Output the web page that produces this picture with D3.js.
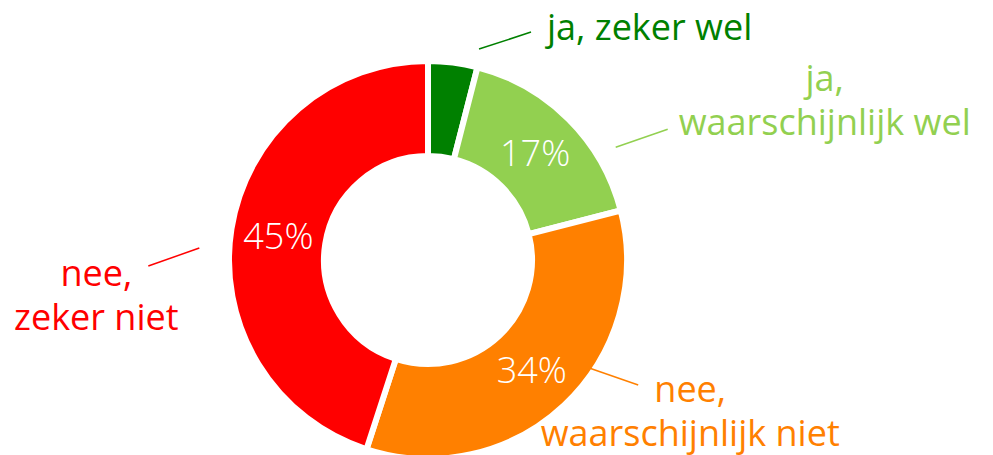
<!DOCTYPE html>
<html>
<head>
<meta charset="utf-8">
<script src="https://cdn.jsdelivr.net/npm/d3@7"></script>
<style>
  html, body { margin: 0; padding: 0; background: #fff; }
  svg { display: block; font-family: "Open Sans", sans-serif; }
</style>
</head>
<body>
<div class="d3"></div>
<script>
const categories = ["ja, zeker wel", "ja, waarschijnlijk wel", "nee, waarschijnlijk niet", "nee, zeker niet"];
const labelLines = [["ja, zeker wel"], ["ja,", "waarschijnlijk wel"], ["nee,", "waarschijnlijk niet"], ["nee,", "zeker niet"]];
const values = [4, 17, 34, 45];
const colors = ["#008000", "#92d050", "#ff8000", "#ff0000"];

function main() {
    const width = 993, height = 455;
    const cx = 428, cy = 260;
    const outerR = 199, innerR = 104;

    const svg = d3.select(".d3")
        .append("svg")
        .attr("width", width)
        .attr("height", height);

    const g = svg.append("g")
        .attr("transform", "translate(" + cx + "," + cy + ")");

    const pie = d3.pie().sort(null);
    const arc = d3.arc().innerRadius(innerR).outerRadius(outerR);
    const arcs = pie(values);

    g.selectAll("path.slice")
        .data(arcs)
        .enter()
        .append("path")
        .attr("class", "slice")
        .attr("d", arc)
        .attr("fill", (d, i) => colors[i])
        .attr("stroke", "#fff")
        .attr("stroke-width", 6);

    // percentage labels inside (small slices skipped)
    g.selectAll("text.pct")
        .data(arcs.filter(d => d.data >= 10))
        .enter()
        .append("text")
        .attr("class", "pct")
        .attr("transform", d => "translate(" + arc.centroid(d) + ")")
        .attr("text-anchor", "middle")
        .attr("dy", "0.36em")
        .attr("fill", "#fff")
        .style("font-size", "36px")
        .style("font-weight", 300)
        .text(d => d.data + "%");

    // leader lines + outside labels
    // da: angle offset from slice middle (deg), r: radius of line start,
    // ldx/ldy: line vector, tx/ty: text offset from line end, anchor
    const layout = [
        { da: 6.4, r: 217, ldx: 52, ldy: -17, tx: 16, ty: 8, anchor: "start" },
        { da: 14, r: 219, ldx: 52, ldy: -18, tx: 157, ty: -38, anchor: "middle" },
        { da: -13, r: 194, ldx: 49, ldy: 17, tx: 52, ty: 17, anchor: "middle" },
        { da: -6, r: 229, ldx: -51, ldy: 18, tx: -52, ty: 20, anchor: "middle" }
    ];
    const lineH = 44;

    arcs.forEach((d, i) => {
        const L = layout[i];
        const a = (d.startAngle + d.endAngle) / 2 + L.da * Math.PI / 180;
        const x1 = L.r * Math.sin(a), y1 = -L.r * Math.cos(a);
        const x2 = x1 + L.ldx, y2 = y1 + L.ldy;
        g.append("line")
            .attr("x1", x1).attr("y1", y1)
            .attr("x2", x2).attr("y2", y2)
            .attr("stroke", colors[i])
            .attr("stroke-width", 1.5);
        const t = g.append("text")
            .attr("x", x2 + L.tx)
            .attr("y", y2 + L.ty)
            .attr("text-anchor", L.anchor)
            .attr("fill", colors[i])
            .style("font-size", "36px");
        labelLines[i].forEach((s, j) => {
            t.append("tspan")
                .attr("x", x2 + L.tx)
                .attr("y", y2 + L.ty + j * lineH)
                .text(s);
        });
    });
}
main();
</script>
</body>
</html>
